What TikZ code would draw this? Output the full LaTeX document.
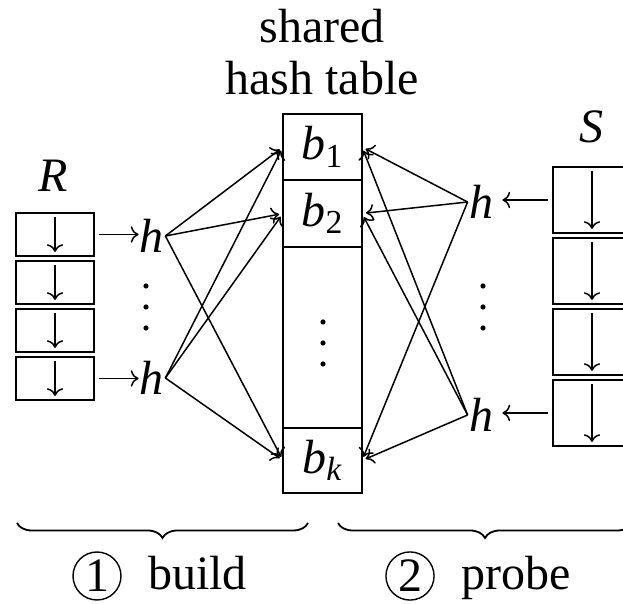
\documentclass[tikz,border=0pt]{standalone}
\usepackage{fontspec}
\setmainfont{Liberation Serif}
\usepackage{tikz}
\usetikzlibrary{positioning,arrows.meta}
\usetikzlibrary{decorations.pathreplacing}

\begin{document}
\begin{tikzpicture}[x=0.5pt,y=-0.5pt,
  font=\fontsize{24}{28}\selectfont,
  rbox/.style={draw,line width=1pt,minimum width=39pt,minimum height=21.5pt,inner sep=0pt},
  sbox/.style={draw,line width=1pt,minimum width=39pt,minimum height=33pt,inner sep=0pt},
  slot/.style={draw,line width=1pt,minimum width=39.5pt,inner sep=0pt,outer sep=0pt},
  hnode/.style={inner sep=0.5pt},
  arr/.style={-{To[scale=1.2]},line width=0.75pt},
  brc/.style={decorate,decoration={brace,mirror,amplitude=7.5pt},line width=0.9pt},
  numc/.style={draw,circle,line width=0.7pt,inner sep=1.5pt}]
  \useasboundingbox (0,0) rectangle (623,604);
  \clip (0,0) rectangle (623,604);

  % title and relation names
  \node (ttl1) [anchor=base] at (322,43) {shared};
  \node (ttl2) [anchor=base] at (322,95) {hash table};
  \node (rlab) [anchor=base] at (53,192) {\textit{R}};
  \node (slab) [anchor=base] at (592,143) {\textit{S}};

  % input R
  \node (r1) [rbox] at (55,234.5) {};
  \node (r2) [rbox,below=1.5pt of r1] {};
  \node (r3) [rbox,below=1.5pt of r2] {};
  \node (r4) [rbox,below=1.5pt of r3] {};

  % input S
  \node (s1) [sbox] at (592,200) {};
  \node (s2) [sbox,below=1.5pt of s1] {};
  \node (s3) [sbox,below=1.5pt of s2] {};
  \node (s4) [sbox,below=1.5pt of s3] {};

  % hash table
  \node (b1) [slot,minimum height=33pt] at (322.5,147) {\textit{b}\textsubscript{1}};
  \node (b2) [slot,minimum height=33.5pt,below=0pt of b1] {\textit{b}\textsubscript{2}};
  \node (bdots) [slot,minimum height=90.5pt,below=0pt of b2] {};
  \node (bk) [slot,minimum height=32.5pt,below=0pt of bdots] {\textit{b}\textsubscript{\textit{k}}};

  % hash functions
  \node (h1) [hnode] at (152,236) {\textit{h}};
  \node (h2) [hnode] at (152,378) {\textit{h}};
  \node (h3) [hnode] at (481,202) {\textit{h}};
  \node (h4) [hnode] at (481,415) {\textit{h}};
  \coordinate (ldots) at (146,307);
  \coordinate (rdots) at (483,307);
  \coordinate (mdots) at (323,343);

  \foreach \c in {ldots,rdots,mdots}
    \foreach \dy in {-10.5,0,10.5}
      \fill ([yshift=\dy pt]\c) circle (1.3pt);

  \foreach \n in {r1,r2,r3,r4,s1,s2,s3,s4}
    \draw[arr] ([yshift=-2.5pt]\n.north) -- ([yshift=2.5pt]\n.south);

  \draw[arr,shorten <=2pt] (r1.east) -- (h1.west |- r1.east);
  \draw[arr,shorten <=2pt] (r4.east) -- (h2.west |- r4.east);
  \draw[arr,shorten <=2pt,shorten >=4pt] (s1.west) -- (h3.east |- s1.west);
  \draw[arr,shorten <=2pt,shorten >=4pt] (s4.west) -- (h4.east |- s4.west);

  \foreach \h in {h1,h2}
    \foreach \b in {b1,b2,bk}
      \draw[arr,shorten >=2pt] (\h.east) -- (\b.west);
  \foreach \h in {h3,h4}
    \foreach \b in {b1,b2,bk}
      \draw[arr,shorten >=2pt] (\h.west) -- (\b.east);

  % phases
  \coordinate (bl) at (17,523);
  \coordinate (br) at (308,523);
  \coordinate (pl) at (338,523);
  \coordinate (pr) at (632,523);
  \draw[brc] (bl) -- (br);
  \draw[brc] (pl) -- (pr);
  \node (c1) [numc] at (97,576) {1};
  \node (lbuild) [anchor=base west] at (141,590) {build};
  \node (c2) [numc] at (410,576) {2};
  \node (lprobe) [anchor=base west] at (454,590) {probe};
\end{tikzpicture}
\end{document}
